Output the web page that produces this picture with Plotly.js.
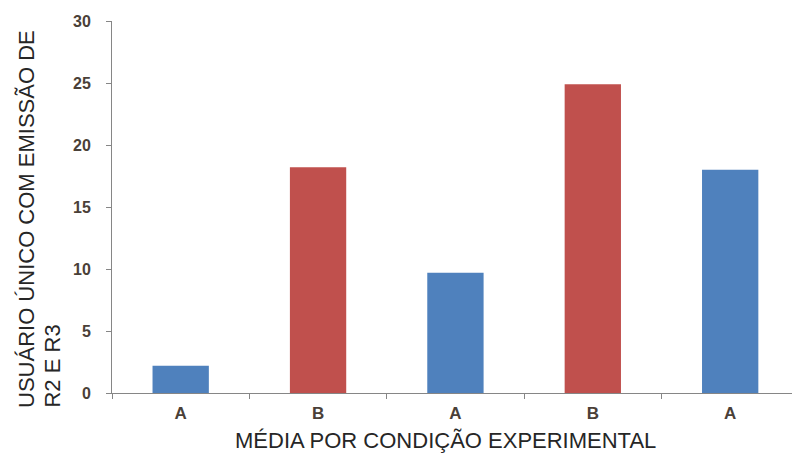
<!DOCTYPE html>
<html>
<head>
<meta charset="utf-8">
<script src="https://cdn.plot.ly/plotly-3.0.1.min.js"></script>
<style>
  html, body { margin: 0; padding: 0; background: #ffffff; }
  #chart { width: 792px; height: 453px; }
</style>
</head>
<body>
<div id="chart"></div>
<script>
// Experimental conditions in presentation order and their mean values
const conditions = ['A', 'B', 'A', 'B', 'A'];
const means = [2.2, 18.2, 9.7, 24.9, 18.0];
const yTicks = [0, 5, 10, 15, 20, 25, 30];

const xTitle = 'MÉDIA POR CONDIÇÃO EXPERIMENTAL';
const yTitleLines = ['USUÁRIO ÚNICO COM EMISSÃO DE', 'R2 E R3'];

// Fill colour per condition
const conditionColor = { A: '#4F81BD', B: '#C0504D' };

const positions = conditions.map((_, i) => i);
const boundaries = conditions.map((_, i) => i - 0.5);

const trace = {
  type: 'bar',
  x: positions,
  y: means,
  width: 0.41,
  marker: { color: conditions.map(c => conditionColor[c]), line: { width: 0 } },
  hoverinfo: 'skip',
  showlegend: false
};

const axisGray = '#868686';
const titleFont = { family: 'Liberation Sans, Arial, sans-serif', size: 22, color: '#262626' };
const tickColor = '#4a4038';

const layout = {
  width: 792,
  height: 453,
  margin: { l: 112, r: 0, t: 21, b: 60 },
  paper_bgcolor: '#ffffff',
  plot_bgcolor: '#ffffff',
  font: { family: 'Liberation Sans, Arial, sans-serif' },
  xaxis: {
    range: [-0.5, 4.45],
    tickmode: 'array',
    tickvals: positions,
    ticktext: conditions,
    ticks: '',
    showgrid: false,
    zeroline: false,
    showline: true,
    linecolor: axisGray,
    linewidth: 1,
    tickfont: { size: 17, color: tickColor, weight: 'bold' },
    ticklabelstandoff: 5,
    fixedrange: true
  },
  // Category boundary tick marks along the bottom axis
  xaxis2: {
    overlaying: 'x',
    matches: 'x',
    anchor: 'y',
    side: 'bottom',
    tickmode: 'array',
    tickvals: boundaries,
    ticks: 'outside',
    ticklen: 5,
    tickcolor: axisGray,
    showticklabels: false,
    showgrid: false,
    zeroline: false,
    showline: false
  },
  yaxis: {
    range: [0, 30],
    tickmode: 'array',
    tickvals: yTicks,
    ticks: 'outside',
    ticklen: 5,
    tickcolor: axisGray,
    showgrid: false,
    zeroline: false,
    showline: true,
    linecolor: axisGray,
    linewidth: 1,
    tickfont: { size: 16, color: tickColor, weight: 'bold' },
    ticklabelstandoff: 12,
    fixedrange: true
  },
  annotations: [
    {
      text: xTitle,
      xref: 'paper', yref: 'paper', x: 0.491, y: -0.129,
      xanchor: 'center', yanchor: 'middle', showarrow: false, font: titleFont
    },
    {
      text: yTitleLines[0], textangle: -90,
      xref: 'paper', yref: 'paper', x: -0.1265, y: -0.0457,
      xanchor: 'center', yanchor: 'bottom', showarrow: false, font: titleFont
    },
    {
      text: yTitleLines[1], textangle: -90,
      xref: 'paper', yref: 'paper', x: -0.0882, y: -0.0457,
      xanchor: 'center', yanchor: 'bottom', showarrow: false, font: titleFont
    }
  ]
};

// An empty trace on xaxis2 so the boundary ticks are drawn
const boundaryTrace = {
  type: 'scatter', x: [], y: [], xaxis: 'x2', yaxis: 'y',
  hoverinfo: 'skip', showlegend: false
};

Plotly.newPlot('chart', [trace, boundaryTrace], layout, { displayModeBar: false, staticPlot: true });
</script>
</body>
</html>
